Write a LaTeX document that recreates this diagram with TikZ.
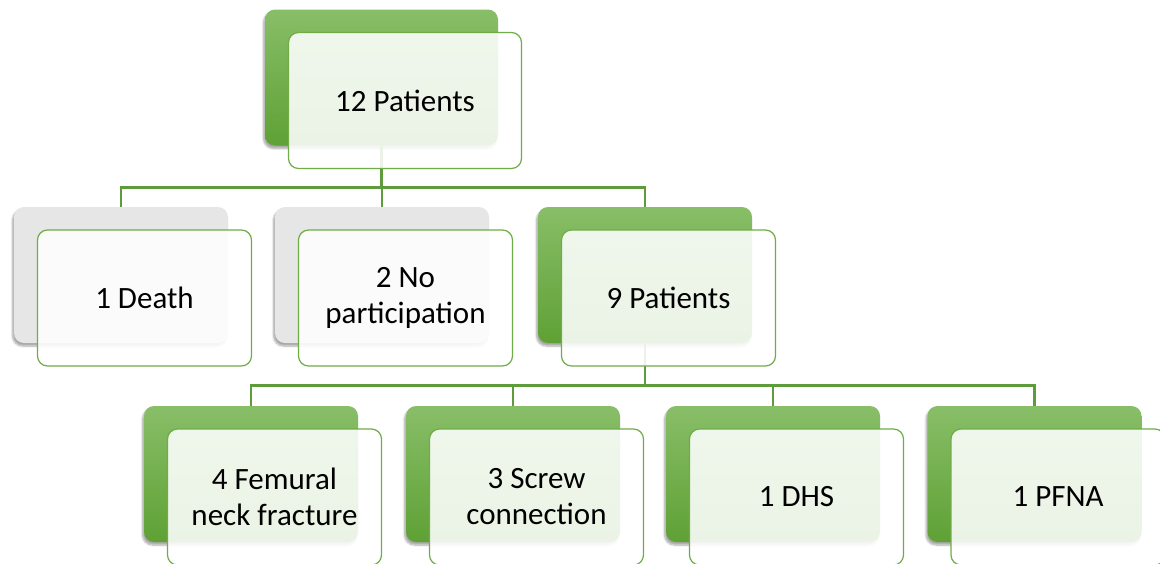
\documentclass[tikz,border=0pt]{standalone}
\usepackage{fontspec}
\setmainfont{Carlito}
\usetikzlibrary{positioning,shadows.blur}
\definecolor{boxgreen}{HTML}{70AD47}
\definecolor{boxtop}{HTML}{88BE68}
\definecolor{boxbot}{HTML}{5FA135}
\definecolor{boxgray}{HTML}{E6E6E6}
\definecolor{linkgreen}{HTML}{5E9B3A}

\begin{document}
\begin{tikzpicture}[x=1pt,y=-1pt,
  backbox/.style={rounded corners=10pt,minimum width=214pt,minimum height=136pt,
    blur shadow={shadow xshift=-1.5pt,shadow yshift=-3pt,shadow opacity=35,shadow blur steps=6}},
  greenbox/.style={backbox,top color=boxtop,bottom color=boxbot},
  graybox/.style={backbox,fill=boxgray},
  frontbox/.style={rounded corners=10pt,minimum width=214pt,minimum height=136pt,
    draw=boxgreen,line width=1.2pt,fill=white,fill opacity=0.88,text opacity=1,
    align=center,font=\fontsize{31}{36}\selectfont},
  wide/.style={minimum width=233pt},
  link/.style={draw=linkgreen,line width=2.8pt}]

  \clip (0,0) rectangle (1160,563);

  % ---- Back cards ------------------------------------------
  \node[greenbox,wide] (top) at (381.5,77.5) {};
  \node[graybox]  (death) at (121,275) {};
  \node[graybox]  (nopart) at (382,275) {};
  \node[greenbox] (nine)  at (645,275) {};
  \node[greenbox] (neck)  at (251,474) {};
  \node[greenbox] (screw) at (513,474) {};
  \node[greenbox] (dhs)   at (773,474) {};
  \node[greenbox] (pfna)  at (1034.5,474) {};

  % ---- Connectors ------------------------------------------
  \draw[link] (top.south) -- ++(0,42) -| (death.north);
  \draw[link] (top.south) -- ++(0,42) -| (nopart.north);
  \draw[link] (top.south) -- ++(0,42) -| (nine.north);
  \draw[link] (nine.south) -- ++(0,42) -| (neck.north);
  \draw[link] (nine.south) -- ++(0,42) -| (screw.north);
  \draw[link] (nine.south) -- ++(0,42) -| (dhs.north);
  \draw[link] (nine.south) -- ++(0,42) -| (pfna.north);

  % ---- Front cards -----------------------------------------
  \node[frontbox,wide] (topf) at ([shift={(23.5,23)}]top.center) {12 Patients};
  \node[frontbox] (deathf)  at ([shift={(23.5,23)}]death.center) {1 Death};
  \node[frontbox] (nopartf) at ([shift={(23.5,23)}]nopart.center) {2 No\\participation};
  \node[frontbox] (ninef)   at ([shift={(23.5,23)}]nine.center) {9 Patients};
  \node[frontbox] (neckf)   at ([shift={(23.5,23)}]neck.center) {4 Femural\\neck fracture};
  \node[frontbox] (screwf)  at ([shift={(23.5,23)}]screw.center) {3 Screw\\connection};
  \node[frontbox] (dhsf)    at ([shift={(23.5,23)}]dhs.center) {1 DHS};
  \node[frontbox] (pfnaf)   at ([shift={(23.5,23)}]pfna.center) {1 PFNA};

\end{tikzpicture}
\end{document}
